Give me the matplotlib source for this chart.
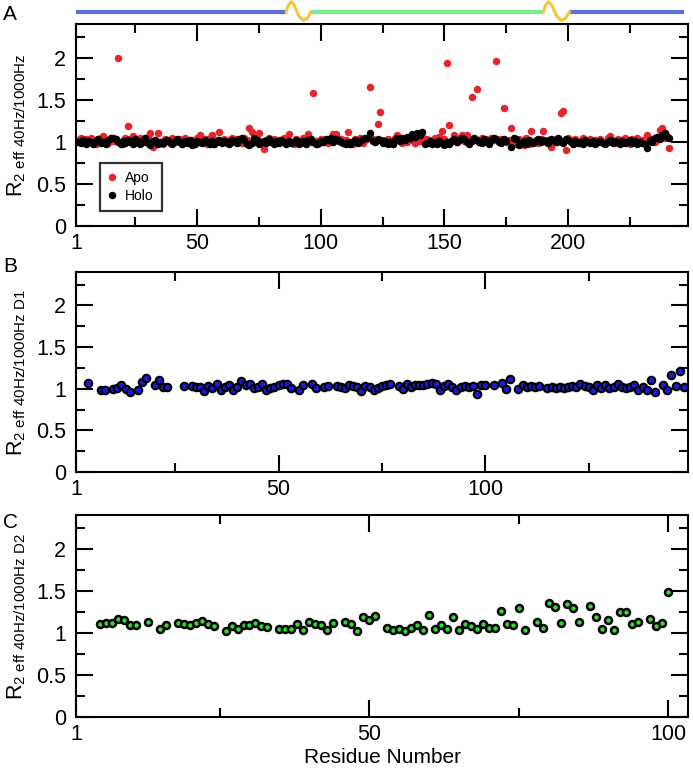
import numpy as np
import matplotlib
matplotlib.use('Agg')
import matplotlib.pyplot as plt
from matplotlib.ticker import MultipleLocator, FormatStrFormatter

plt.rcParams['font.family'] = ['Liberation Sans', 'DejaVu Sans']
plt.rcParams['mathtext.fontset'] = 'custom'
plt.rcParams['mathtext.rm'] = 'Liberation Sans'
plt.rcParams['mathtext.default'] = 'regular'

W, H = 693, 768

# panel A: full length protein, residues 2..241
full_res = np.arange(2, 242)
apo = [
    1.02, 1.04, 1.00, 1.03, 0.99, 1.05, 1.01, 0.98, 1.03, 1.04,
    1.07, 1.02, 0.99, 1.04, 1.01, 1.03, 2.00, 1.00, 0.98, 1.05,
    1.19, 1.03, 1.07, 0.99, 1.02, 1.04, 1.00, 1.03, 1.06, 1.10,
    0.94, 1.02, 1.11, 1.00, 0.97, 1.03, 1.01, 0.99, 1.04, 1.02,
    1.00, 1.03, 0.98, 1.05, 1.01, 0.99, 1.02, 1.00, 1.04, 1.08,
    1.01, 1.03, 0.98, 1.05, 1.08, 0.97, 1.02, 1.12, 1.00, 1.03,
    0.99, 1.02, 1.04, 1.00, 1.03, 1.01, 0.99, 1.05, 1.02, 1.16,
    1.12, 1.00, 1.03, 1.11, 0.98, 0.91, 1.02, 1.05, 1.00, 1.03,
    0.99, 1.02, 1.00, 1.04, 1.01, 1.09, 1.00, 0.98, 1.03, 1.01,
    0.99, 1.04, 1.02, 1.09, 1.00, 1.58, 1.01, 0.98, 1.03, 1.00,
    1.02, 0.99, 1.04, 1.09, 1.09, 1.01, 1.03, 0.99, 1.02, 1.12,
    1.00, 0.98, 1.03, 1.01, 1.04, 0.99, 1.02, 1.05, 1.65, 1.03,
    1.00, 1.21, 1.35, 1.02, 0.99, 1.03, 1.01, 0.98, 1.04, 1.08,
    1.01, 0.99, 1.03, 1.00, 1.05, 1.02, 0.99, 1.04, 1.01, 1.06,
    1.00, 1.03, 0.99, 1.02, 1.05, 1.01, 1.06, 1.13, 1.03, 1.94,
    1.20, 1.02, 1.08, 1.00, 1.04, 1.08, 1.01, 1.08, 1.03, 1.53,
    1.02, 1.63, 1.00, 1.04, 1.01, 1.03, 0.99, 1.05, 1.02, 1.96,
    1.01, 1.03, 1.40, 1.00, 1.02, 1.17, 1.00, 0.98, 1.03, 1.01,
    0.96, 1.04, 0.97, 1.13, 1.00, 1.02, 0.99, 1.03, 1.13, 1.00,
    1.02, 0.94, 1.01, 1.03, 1.00, 1.34, 1.37, 0.90, 1.04, 1.02,
    1.00, 1.03, 1.01, 0.99, 1.04, 1.02, 1.00, 1.03, 0.99, 1.02,
    1.01, 1.03, 1.00, 0.99, 1.04, 1.07, 1.01, 0.99, 1.03, 1.00,
    1.02, 1.04, 1.00, 0.98, 1.03, 1.01, 1.05, 1.00, 1.02, 0.99,
    1.08, 1.01, 1.03, 1.00, 1.05, 1.14, 1.16, 1.04, 1.07, 0.93,
]
holo = [
    1.00, 0.99, 1.02, 0.98, 1.01, 1.00, 0.97, 1.01, 1.03, 0.99,
    1.00, 0.98, 1.02, 1.04, 1.05, 1.03, 1.00, 0.98, 1.01, 0.99,
    1.02, 1.00, 0.97, 1.03, 1.01, 0.98, 1.00, 1.04, 0.99, 0.96,
    1.01, 1.02, 0.98, 1.00, 0.99, 1.01, 1.02, 1.00, 0.98, 1.01,
    1.03, 1.00, 0.97, 1.01, 0.99, 1.02, 0.96, 0.98, 1.01, 1.00,
    0.99, 1.02, 1.00, 0.98, 1.01, 0.97, 1.00, 1.02, 0.99, 1.01,
    1.00, 0.98, 1.02, 1.01, 0.99, 1.03, 1.05, 1.02, 0.98, 0.96,
    0.99, 1.04, 1.02, 0.98, 1.00, 1.01, 0.99, 1.03, 1.00, 0.98,
    1.01, 0.99, 1.02, 1.00, 0.98, 1.01, 0.99, 1.00, 1.02, 0.97,
    1.00, 1.01, 0.98, 1.02, 1.03, 1.00, 0.98, 0.99, 1.01, 1.00,
    1.03, 1.02, 1.04, 1.00, 1.03, 1.02, 1.00, 0.99, 0.98, 1.00,
    0.97, 1.00, 1.02, 0.99, 1.01, 1.03, 1.05, 1.04, 1.10, 1.01,
    1.00, 1.03, 1.02, 0.99, 1.01, 0.98, 1.00, 0.97, 1.02, 1.04,
    1.01, 1.04, 1.02, 1.06, 1.04, 1.09, 1.06, 1.11, 1.08, 1.12,
    0.98, 0.99, 1.01, 0.98, 1.00, 0.97, 1.01, 0.99, 0.96, 1.00,
    0.98, 1.01, 1.03, 1.00, 1.02, 1.04, 1.03, 1.00, 0.98, 1.01,
    1.05, 1.02, 1.00, 0.99, 1.03, 1.01, 0.98, 1.02, 1.04, 1.03,
    1.00, 0.99, 1.03, 1.01, np.nan, 0.94, 1.05, 1.03, 0.96, 0.99,
    1.01, 0.98, 1.02, 1.00, 0.99, 1.01, 1.03, 1.00, 1.02, 1.01,
    0.99, 1.03, 1.02, 1.00, 1.04, 1.01, 0.99, 1.03, 1.02, 1.00,
    0.98, 1.01, 0.99, 1.00, 0.98, 1.02, 1.00, 0.99, 1.01, 0.98,
    1.00, 1.01, 0.99, 0.98, 1.00, 1.02, 0.99, 1.01, 1.00, 0.98,
    1.01, 0.99, 1.00, 1.02, 0.99, 1.01, 0.98, 1.00, 0.99, 0.97,
    0.93, 1.02, 1.00, 1.04, 1.06, 1.03, 1.08, 1.11, 1.06, 1.04,
]

# panel B: domain D1
d1_res = [4, 7, 8, 10, 11, 12, 13, 14, 16, 17, 18, 20, 21, 22, 23,
          27, 29, 30, 31, 32, 33, 34, 35, 36, 37, 38, 39, 40, 41, 42,
          43, 44, 45, 46, 47, 48, 49, 50, 51, 52, 53, 55, 56, 58, 59,
          61, 62, 64, 65, 66, 67, 68, 69, 70, 71, 72, 73, 74, 75, 76,
          77, 79, 80, 81, 82, 83, 84, 85, 86, 87, 88, 89, 90, 91, 92,
          93, 94, 95, 96, 97, 98, 99, 100, 102, 104, 105, 106, 108, 109, 110,
          111, 112, 113, 115, 116, 117, 118, 119, 120, 121, 122, 123, 124, 125, 126,
          127, 128, 129, 130, 131, 132, 133, 134, 135, 136, 137, 138, 139, 140, 141,
          143, 144, 145, 146, 147, 148]
d1_r2 = [1.07, 0.99, 0.99, 1.00, 1.01, 1.05, 1.00, 0.96, 0.99, 1.08, 1.13, 1.04, 1.10, 1.02, 1.02,
         1.03, 1.03, 1.02, 1.02, 0.97, 1.03, 1.01, 1.06, 0.99, 1.02, 1.05, 0.98, 1.02, 1.09, 1.05,
         1.06, 1.01, 1.02, 1.06, 0.98, 1.01, 1.02, 1.04, 1.06, 1.06, 1.01, 0.99, 1.04, 1.06, 1.01,
         1.02, 1.03, 1.03, 1.02, 1.01, 1.04, 1.03, 1.02, 0.97, 1.03, 1.02, 0.985, 1.01, 1.03, 1.04,
         1.06, 1.03, 1.00, 1.06, 1.02, 1.04, 1.04, 1.04, 1.06, 1.07, 1.06, 0.99, 1.03, 1.06, 1.02,
         0.99, 1.02, 1.03, 1.02, 1.03, 0.94, 1.04, 1.05, 1.05, 1.07, 1.00, 1.12, 1.00, 1.04, 1.02,
         1.03, 1.02, 1.03, 1.01, 1.02, 1.01, 1.02, 1.01, 1.02, 1.03, 1.02, 1.06, 1.03, 1.02, 0.99,
         1.04, 1.01, 1.04, 1.01, 1.02, 1.06, 1.02, 1.01, 1.02, 1.05, 0.99, 1.02, 0.98, 1.10, 0.96,
         1.04, 0.98, 1.17, 1.03, 1.21, 1.02]

# panel C: domain D2
d2_res = [5, 6, 7, 8, 9, 10, 11, 13, 15, 16, 18, 19, 20, 21, 22, 23, 24,
          26, 27, 28, 29, 30, 31, 32, 33, 35, 36, 37, 38, 39, 40, 41, 42, 43, 44,
          46, 47, 48, 49, 50, 51, 53, 54, 55, 56, 57, 58, 59, 60, 61, 62, 63, 64,
          65, 66, 67, 68, 69, 70, 71, 72, 73, 74, 75, 76, 78, 79, 80, 81, 82, 83,
          84, 85, 87, 88, 89, 90, 91, 92, 93, 94, 95, 97, 98, 99, 100]
d2_r2 = [1.10, 1.12, 1.12, 1.17, 1.15, 1.09, 1.09, 1.13, 1.05, 1.09, 1.12, 1.11, 1.09, 1.12, 1.14, 1.10, 1.08,
         1.02, 1.08, 1.05, 1.09, 1.09, 1.12, 1.08, 1.07, 1.04, 1.05, 1.05, 1.11, 1.03, 1.13, 1.10, 1.09, 1.03, 1.12,
         1.13, 1.10, 1.02, 1.19, 1.15, 1.20, 1.06, 1.03, 1.05, 1.02, 1.06, 1.09, 1.03, 1.21, 1.05, 1.09, 1.05, 1.19,
         1.03, 1.11, 1.08, 1.04, 1.10, 1.06, 1.06, 1.26, 1.11, 1.09, 1.29, 1.03, 1.13, 1.06, 1.36, 1.31, 1.12, 1.34,
         1.29, 1.13, 1.32, 1.19, 1.05, 1.15, 1.03, 1.25, 1.25, 1.11, 1.13, 1.16, 1.08, 1.12, 1.49]

# domain cartoon above panel A (residue boundaries)
domain_bounds = [1.2, 86, 96, 190, 200.5, 247]
domain_colors = ['#5b6fe3', '#74ef8c', '#5b6fe3']
linker_color = '#f5c53a'
wave_frac = [0, 0.08, 0.2, 0.32, 0.5, 0.68, 0.85, 1.0]
wave_y = [0, 0.55, 0.85, 0.6, -0.3, -0.7, -0.55, 0]


def px_box(left, top, right, bottom):
    return [left / W, 1 - bottom / H, (right - left) / W, (bottom - top) / H]


def style_axis(ax, xlim, xmajor, xminor, sub):
    ax.set_xlim(*xlim)
    ax.set_ylim(0, 2.4)
    ax.set_xticks(xmajor)
    ax.set_xticklabels([str(t) for t in xmajor])
    ax.set_xticks(xminor, minor=True)
    ax.yaxis.set_major_locator(MultipleLocator(0.5))
    ax.yaxis.set_minor_locator(MultipleLocator(0.25))
    ax.yaxis.set_major_formatter(FormatStrFormatter('%g'))
    ax.tick_params(which='both', direction='in', top=True, right=True, width=1.5, labelsize=15.5)
    ax.tick_params(which='major', length=12)
    ax.tick_params(which='minor', length=6.5)
    ax.tick_params(axis='x', pad=5)
    ax.tick_params(axis='y', pad=7)
    for sp in ax.spines.values():
        sp.set_linewidth(1.5)
    ax.set_ylabel(r'R$_{2\ eff\ 40Hz/1000Hz' + sub + '}$', fontsize=15.5)
    ax.yaxis.set_label_coords(-0.078, 0.5)


fig = plt.figure(figsize=(W / 100, H / 100), dpi=100)

# domain cartoon
bar = fig.add_axes(px_box(76, 0, 688, 24))
bar.set_xlim(1, 248.5)
bar.set_ylim(-1, 1)
bar.axis('off')
for i, col in enumerate(domain_colors):
    bar.plot([domain_bounds[2 * i], domain_bounds[2 * i + 1]], [0, 0], color=col, lw=3, solid_capstyle='butt')
for a, b in [(domain_bounds[1], domain_bounds[2]), (domain_bounds[3], domain_bounds[4])]:
    xs = [a + f * (b - a) for f in wave_frac]
    bar.plot(xs, wave_y, color=linker_color, lw=2.2, solid_joinstyle='round')

axA = fig.add_axes(px_box(76, 24, 688, 226))
axA.plot(full_res, apo, 'o', ls='none', color='#e3262b', ms=5.4, mew=0, label='Apo')
axA.plot(full_res, holo, 'o', ls='none', color='black', ms=5.4, mew=0, label='Holo')
style_axis(axA, (1, 248.5), [1, 50, 100, 150, 200], [25, 75, 125, 175, 225], '')
leg = axA.legend(loc='lower left', bbox_to_anchor=(0.039, 0.074), fontsize=10, frameon=True,
                 fancybox=False, handlelength=0.6, handletextpad=0.6, borderpad=0.6,
                 labelspacing=0.25, borderaxespad=0)
leg.get_frame().set_edgecolor('black')
leg.get_frame().set_linewidth(1.6)

axB = fig.add_axes(px_box(76, 272, 688, 472))
axB.plot(d1_res, d1_r2, 'o', ls='none', color='#1a1ad6', mec='black', ms=5.4, mew=1.5)
style_axis(axB, (1.2, 149), [1, 50, 100], [25, 75, 125], r'\ D1')

axC = fig.add_axes(px_box(76, 515, 688, 717))
axC.plot(d2_res, d2_r2, 'o', ls='none', color='#2ee02e', mec='black', ms=5.0, mew=1.8)
style_axis(axC, (1.33, 103.3), [1, 50, 100], [25, 75], r'\ D2')
axC.set_xlabel('Residue Number', fontsize=15, labelpad=2)

for letter, ypix in [('A', 15), ('B', 266), ('C', 523)]:
    fig.text(3 / W, 1 - ypix / H, letter, fontsize=15, va='center', ha='left')

fig.savefig('out.png', dpi=100)
